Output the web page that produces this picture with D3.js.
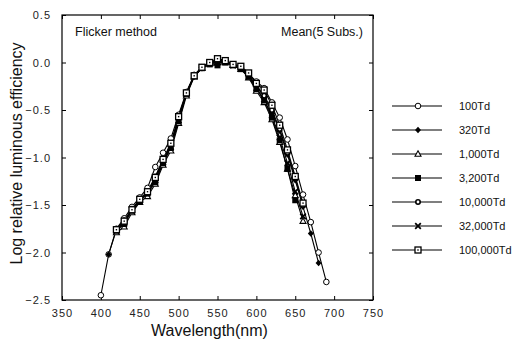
<!DOCTYPE html>
<html>
<head>
<meta charset="utf-8">
<script src="https://cdn.jsdelivr.net/npm/d3@7"></script>
<style>
  body { margin: 0; background: #fff; }
  svg { display: block; font-family: "Liberation Sans", Arial, sans-serif; }
  .axis text { font-size: 11px; fill: #222; letter-spacing: 1px; }
  .axis line { stroke: #000; }
  .axis-title { font-size: 16px; fill: #111; }
  .note { font-size: 12.5px; fill: #111; }
  .legend text { font-size: 11px; fill: #111; }
</style>
</head>
<body>
<svg id="chart"></svg>
<script>
// wavelength (nm) for each column
const wavelengths = [400, 410, 420, 430, 440, 450, 460, 470, 480, 490,
                     500, 510, 520, 530, 540, 550, 560, 570, 580, 590,
                     600, 610, 620, 630, 640, 650, 660, 670, 680, 690];

// log relative luminous efficiency per retinal illuminance (null = not measured)
const td100    = [-2.45, -2.02, -1.75, -1.64, -1.52, -1.42, -1.32, -1.10, -0.95, -0.80,
                  -0.55, -0.31, -0.13, -0.05, 0.00, 0.02, 0.02, -0.02, -0.05, -0.12,
                  -0.20, -0.27, -0.42, -0.58, -0.81, -1.09, -1.39, -1.68, -2.00, -2.31];
const td320    = [null, -2.02, -1.76, -1.68, -1.55, -1.45, -1.37, -1.22, -1.04, -0.87,
                  -0.60, -0.33, -0.15, -0.06, -0.01, 0.00, 0.01, -0.02, -0.06, -0.14,
                  -0.25, -0.36, -0.52, -0.72, -0.97, -1.24, -1.52, -1.80, -2.11, null];
const td1000   = [null, null, -1.79, -1.73, -1.58, -1.47, -1.41, -1.28, -1.08, -0.93,
                  -0.64, -0.35, -0.15, -0.06, -0.01, 0.00, 0.00, -0.03, -0.07, -0.16,
                  -0.30, -0.42, -0.60, -0.84, -1.12, -1.40, -1.67, null, null, null];
const td3200   = [null, null, -1.77, -1.70, -1.56, -1.46, -1.38, -1.26, -1.06, -0.90,
                  -0.62, -0.33, -0.14, -0.06, -0.02, -0.03, 0.00, -0.03, -0.07, -0.15,
                  -0.28, -0.40, -0.58, -0.82, -1.12, -1.45, null, null, null, null];
const td10000  = [null, null, -1.76, -1.66, -1.54, -1.44, -1.36, -1.20, -1.02, -0.86,
                  -0.58, -0.32, -0.14, -0.05, 0.00, 0.01, 0.01, -0.02, -0.05, -0.13,
                  -0.24, -0.35, -0.50, -0.70, -0.95, -1.22, -1.50, null, null, null];
const td32000  = [null, null, -1.77, -1.69, -1.55, -1.45, -1.37, -1.24, -1.05, -0.89,
                  -0.61, -0.33, -0.14, -0.05, -0.01, 0.00, 0.01, -0.03, -0.06, -0.14,
                  -0.27, -0.39, -0.56, -0.79, -1.06, -1.36, -1.62, null, null, null];
const td100000 = [null, null, -1.76, -1.67, -1.55, -1.44, -1.36, -1.21, -1.02, -0.85,
                  -0.57, -0.32, -0.14, -0.05, 0.00, 0.04, 0.02, -0.02, -0.04, -0.11,
                  -0.22, -0.29, -0.45, -0.66, -0.92, -1.20, -1.48, null, null, null];

const seriesNames = ['100Td', '320Td', '1,000Td', '3,200Td', '10,000Td', '32,000Td', '100,000Td'];
const seriesValues = [td100, td320, td1000, td3200, td10000, td32000, td100000];
const markerTypes = ['openCircle', 'filledDiamond', 'openTriangle', 'filledSquare', 'boldCircle', 'cross', 'dotSquare'];

const xTicks = [350, 400, 450, 500, 550, 600, 650, 700, 750];
const yTicks = [0.5, 0.0, -0.5, -1.0, -1.5, -2.0, -2.5];

class LuminosityChart {
  constructor(_config) {
    this.config = {
      parentElement: _config.parentElement,
      containerWidth: 514,
      containerHeight: 341,
      margin: {top: 15, right: 141, bottom: 41, left: 62}
    };
    this.initVis();
  }

  initVis() {
    let vis = this;
    vis.width = vis.config.containerWidth - vis.config.margin.left - vis.config.margin.right;
    vis.height = vis.config.containerHeight - vis.config.margin.top - vis.config.margin.bottom;

    vis.xScale = d3.scaleLinear().domain([350, 750]).range([0, vis.width]);
    vis.yScale = d3.scaleLinear().domain([-2.5, 0.5]).range([vis.height, 0]);

    vis.svg = d3.select(vis.config.parentElement)
      .attr('width', vis.config.containerWidth)
      .attr('height', vis.config.containerHeight);

    vis.chart = vis.svg.append('g')
      .attr('transform', `translate(${vis.config.margin.left},${vis.config.margin.top})`);
  }

  // draws one marker shape centred at 0,0
  drawMarker(g, type) {
    if (type === 'openCircle') {
      g.append('circle').attr('r', 2.8).attr('fill', '#fff').attr('stroke', '#000').attr('stroke-width', 1);
    } else if (type === 'filledDiamond') {
      g.append('path').attr('d', 'M0,-3.2L3,0L0,3.2L-3,0Z').attr('fill', '#000');
    } else if (type === 'openTriangle') {
      g.append('path').attr('d', 'M0,-3.2L3,2.2L-3,2.2Z').attr('fill', '#fff').attr('stroke', '#000').attr('stroke-width', 1.1);
    } else if (type === 'filledSquare') {
      g.append('rect').attr('x', -3).attr('y', -3).attr('width', 6).attr('height', 6).attr('fill', '#000');
    } else if (type === 'boldCircle') {
      g.append('circle').attr('r', 2.2).attr('fill', '#fff').attr('stroke', '#000').attr('stroke-width', 1.6);
    } else if (type === 'cross') {
      g.append('path').attr('d', 'M-2.8,-2.8L2.8,2.8M2.8,-2.8L-2.8,2.8').attr('stroke', '#000').attr('stroke-width', 1.8);
    } else if (type === 'dotSquare') {
      g.append('rect').attr('x', -3).attr('y', -3).attr('width', 6).attr('height', 6)
        .attr('fill', '#fff').attr('stroke', '#000').attr('stroke-width', 1.3);
      g.append('rect').attr('x', -0.7).attr('y', -0.7).attr('width', 1.4).attr('height', 1.4).attr('fill', '#000');
    }
  }

  renderVis() {
    let vis = this;

    // frame with inward ticks on all sides
    vis.chart.append('rect')
      .attr('width', vis.width).attr('height', vis.height)
      .attr('fill', 'none').attr('stroke', '#000').attr('stroke-width', 1.2);

    const xBottom = d3.axisBottom(vis.xScale).tickValues(xTicks).tickSize(-4).tickPadding(9).tickFormat(d3.format('d'));
    const xTop = d3.axisTop(vis.xScale).tickValues(xTicks).tickSize(-4).tickFormat('');
    const yLeft = d3.axisLeft(vis.yScale).tickValues(yTicks).tickSize(-4).tickPadding(11).tickFormat(d3.format('.1f'));
    const yRight = d3.axisRight(vis.yScale).tickValues(yTicks).tickSize(-4).tickFormat('');

    vis.chart.append('g').attr('class', 'axis').attr('transform', `translate(0,${vis.height})`)
      .call(xBottom).call(g => g.select('.domain').remove());
    vis.chart.append('g').attr('class', 'axis').call(xTop).call(g => g.select('.domain').remove());
    vis.chart.append('g').attr('class', 'axis').call(yLeft).call(g => g.select('.domain').remove());
    vis.chart.append('g').attr('class', 'axis').attr('transform', `translate(${vis.width},0)`)
      .call(yRight).call(g => g.select('.domain').remove());

    // axis titles
    vis.svg.append('text').attr('class', 'axis-title')
      .attr('x', vis.config.margin.left + vis.width / 2 - 8).attr('y', 336)
      .attr('text-anchor', 'middle').text('Wavelength(nm)');
    vis.svg.append('text').attr('class', 'axis-title')
      .attr('transform', `translate(22,${vis.config.margin.top + vis.height / 2 - 4}) rotate(-90)`)
      .attr('text-anchor', 'middle').text('Log relative luminous efficiency');

    vis.chart.append('text').attr('class', 'note').attr('x', 13).attr('y', 21).text('Flicker method');
    vis.chart.append('text').attr('class', 'note').attr('x', vis.width - 10).attr('y', 21)
      .attr('text-anchor', 'end').text('Mean(5 Subs.)');

    const line = d3.line()
      .defined(d => d.v !== null)
      .x(d => vis.xScale(d.w))
      .y(d => vis.yScale(d.v));

    seriesValues.forEach((vals, i) => {
      const pts = wavelengths.map((w, j) => ({w: w, v: vals[j]}));
      vis.chart.append('path').datum(pts)
        .attr('d', line).attr('fill', 'none').attr('stroke', '#000').attr('stroke-width', 1.1);
    });

    // markers drawn after lines, last series on top
    seriesValues.forEach((vals, i) => {
      wavelengths.forEach((w, j) => {
        if (vals[j] === null) return;
        const g = vis.chart.append('g')
          .attr('transform', `translate(${vis.xScale(w)},${vis.yScale(vals[j])})`);
        vis.drawMarker(g, markerTypes[i]);
      });
    });

    // legend
    const legend = vis.svg.append('g').attr('class', 'legend').attr('transform', 'translate(392,106)');
    seriesNames.forEach((name, i) => {
      const row = legend.append('g').attr('transform', `translate(0,${i * 24})`);
      row.append('line').attr('x1', 0).attr('x2', 50).attr('stroke', '#000').attr('stroke-width', 1.1);
      vis.drawMarker(row.append('g').attr('transform', 'translate(26,0)'), markerTypes[i]);
      row.append('text').attr('x', 67).attr('dy', '0.35em').text(name);
    });
  }
}

const chart = new LuminosityChart({parentElement: '#chart'});
chart.renderVis();
</script>
</body>
</html>
